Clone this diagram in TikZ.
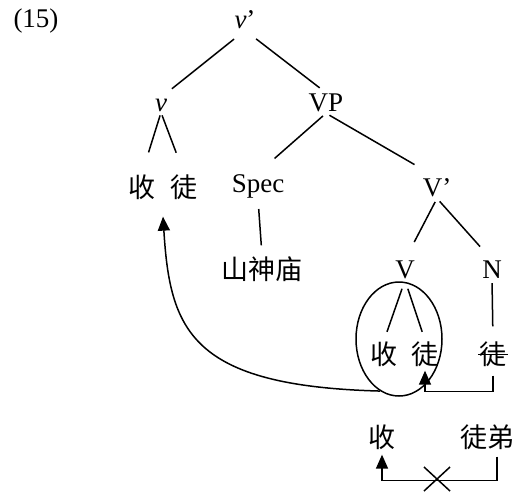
\documentclass[tikz,border=0pt]{standalone}
\usepackage{fontspec}
\setmainfont{Liberation Serif}
\newfontfamily\cjk{Noto Sans CJK SC}
\usetikzlibrary{positioning}
\usetikzlibrary{calc}
\usetikzlibrary{arrows.meta}
\usetikzlibrary{shapes.geometric}

\begin{document}
\begin{tikzpicture}[x=1pt,y=-1pt,every node/.style={inner sep=1pt,font=\fontsize{27}{29}\selectfont},
  branch/.style 2 args={line width=1.5pt,shorten <=#1,shorten >=#2},
  move/.style={line width=1.5pt,-{Triangle[length=14pt,width=12pt]}}]
  \useasboundingbox (0,0) rectangle (516,491);
  \node (num) at (36,21) {(15)};
  % tree
  \node (top) at (245,20) {\textit{v}’};
  \node (vl) at (161,105) {\textit{v}};
  \node (vp) at (326,103) {VP};
  \node (shou1) at (142,187) {\cjk 收};
  \node (tu1) at (184,187) {\cjk 徒};
  \node (spec) at (258,186) {Spec};
  \node (vbar) at (437,188) {V’};
  \node (temple) at (262,269) {\cjk 山神庙};
  \node (vv) at (405,270) {V};
  \node (nn) at (492,270) {N};
  \node (shou2) at (384,354) {\cjk 收};
  \node (tu2) at (425,354) {\cjk 徒};
  \node (tu3) at (493,354) {\cjk 徒};
  \node[draw,ellipse,line width=1.5pt,minimum width=86pt,minimum height=114pt] (ring) at (399,339) {};
  \node (shou3) at (382,437) {\cjk 收};
  \node (tudi) at (487,437) {\cjk 徒弟};

  \draw[branch={14pt}{14pt}] (top.south) -- (vl.north);
  \draw[branch={14pt}{8pt}] (top.south) -- (vp.north);
  \draw[branch={3pt}{22pt}] (vl.south) -- (shou1.north);
  \draw[branch={3pt}{22pt}] (vl.south) -- (tu1.north);
  \draw[branch={4pt}{22pt}] (vp.south) -- (spec.north);
  \draw[branch={4pt}{26pt}] (vp.south) -- (vbar.north);
  \draw[branch={10pt}{10pt}] (spec.south) -- (temple.north);
  \draw[branch={4pt}{20pt}] (vbar.south) -- (vv.north);
  \draw[branch={4pt}{18pt}] (vbar.south) -- (nn.north);
  \draw[branch={9pt}{9pt}] (vv.south) -- (shou2.north);
  \draw[branch={9pt}{9pt}] (vv.south) -- (tu2.north);
  \draw[branch={3pt}{14pt}] (nn.south) -- (tu3.north);
  \draw[line width=1pt] (tu3.west) -- (tu3.east);

  % movement
  \draw[move,shorten <=8pt,shorten >=3pt] (tu3.south) -- ++(0,24) -| (tu2.south);
  \draw[move] (ring.250) .. controls (190,386) and (170,330) .. ($(shou1.south)!0.5!(tu1.south)+(0,16)$);
  \draw[move,shorten <=6pt,shorten >=4pt] ([xshift=10pt]tudi.south) -- ++(0,30) -| (shou3.south);
  \coordinate (cross) at (437,479);
  \draw[line width=1.5pt] (cross) +(-13,-12) -- +(13,12) (cross) +(13,-12) -- +(-13,12);
\end{tikzpicture}
\end{document}
